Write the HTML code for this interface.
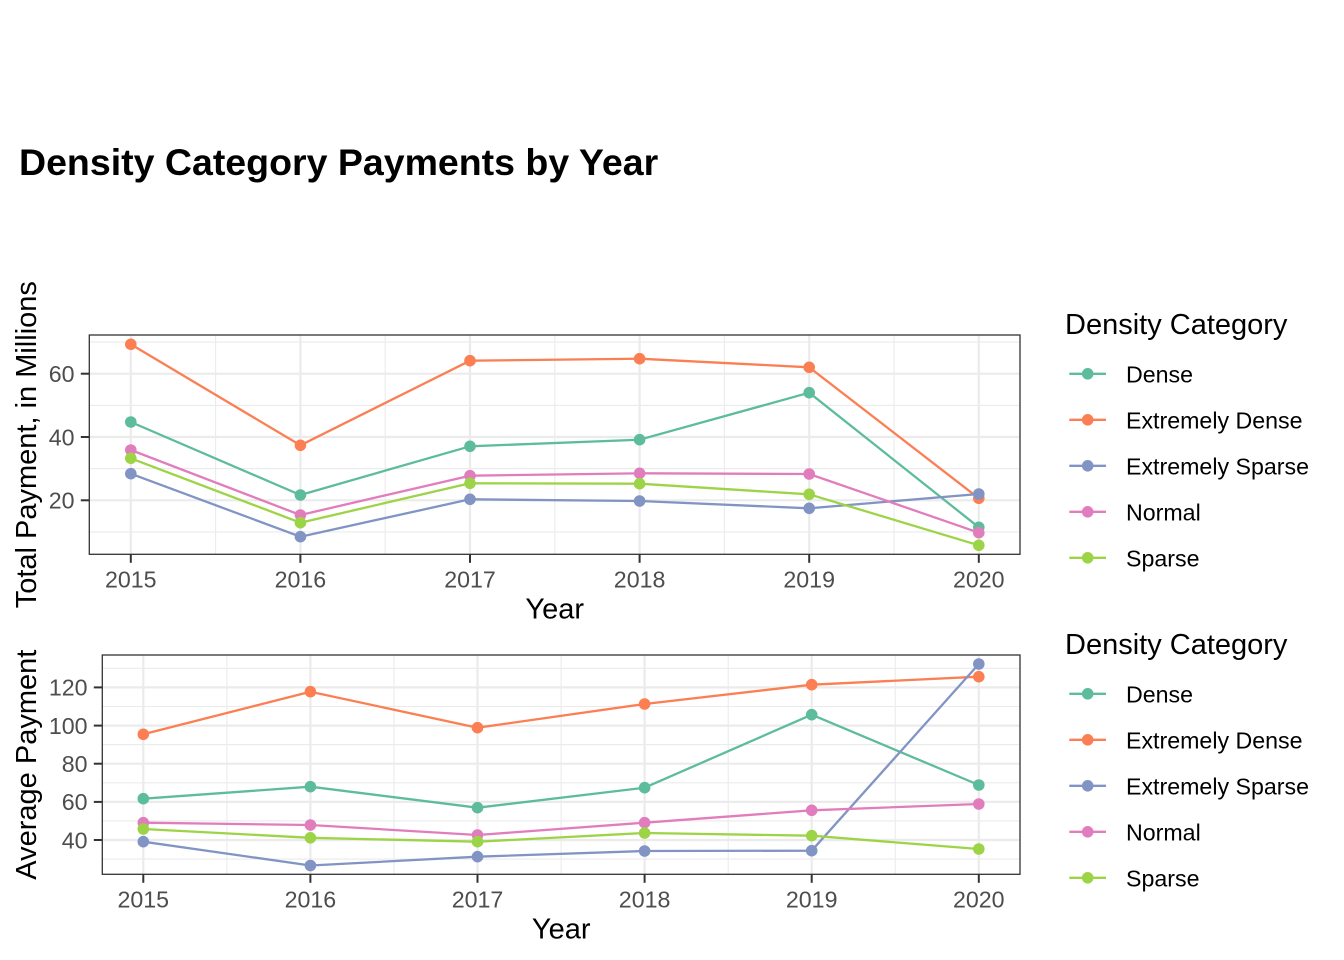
<!DOCTYPE html>
<html>
<head>
<meta charset="utf-8">
<style>
html,body{margin:0;padding:0;background:#fff;}
svg{display:block;}
text{font-family:"Liberation Sans",Arial,Helvetica,sans-serif;}
</style>
</head>
<body>
<svg width="1344" height="960" viewBox="0 0 1344 960" xmlns="http://www.w3.org/2000/svg">
<rect width="1344" height="960" fill="#fff"/>

<!-- Title -->
<text x="19" y="175" font-size="37.5" font-weight="bold" fill="#000">Density Category Payments by Year</text>

<!-- ================= TOP PANEL ================= -->
<g>
  <rect x="89.3" y="335" width="930.7" height="219.3" fill="#fff"/>
  <g stroke="#EBEBEB" stroke-width="1.1" fill="none">
    <line x1="89.3" x2="1020" y1="342.1" y2="342.1"/>
    <line x1="89.3" x2="1020" y1="405.4" y2="405.4"/>
    <line x1="89.3" x2="1020" y1="468.6" y2="468.6"/>
    <line x1="89.3" x2="1020" y1="531.9" y2="531.9"/>
    <line y1="335" y2="554.3" x1="215.6" x2="215.6"/>
    <line y1="335" y2="554.3" x1="385.2" x2="385.2"/>
    <line y1="335" y2="554.3" x1="554.8" x2="554.8"/>
    <line y1="335" y2="554.3" x1="724.4" x2="724.4"/>
    <line y1="335" y2="554.3" x1="894.0" x2="894.0"/>
  </g>
  <g stroke="#EBEBEB" stroke-width="2.2" fill="none">
    <line x1="89.3" x2="1020" y1="373.7" y2="373.7"/>
    <line x1="89.3" x2="1020" y1="437.0" y2="437.0"/>
    <line x1="89.3" x2="1020" y1="500.3" y2="500.3"/>
    <line y1="335" y2="554.3" x1="130.8" x2="130.8"/>
    <line y1="335" y2="554.3" x1="300.4" x2="300.4"/>
    <line y1="335" y2="554.3" x1="470.0" x2="470.0"/>
    <line y1="335" y2="554.3" x1="639.6" x2="639.6"/>
    <line y1="335" y2="554.3" x1="809.2" x2="809.2"/>
    <line y1="335" y2="554.3" x1="978.8" x2="978.8"/>
  </g>
  <g fill="none" stroke-width="2.3" stroke-linejoin="round">
    <polyline stroke="#5DBC9C" points="130.8,422 300.4,495 470.0,446.3 639.6,439.7 809.2,392.7 978.8,527.3"/>
    <polyline stroke="#FB7F52" points="130.8,344.3 300.4,445.3 470.0,360.7 639.6,358.7 809.2,367.3 978.8,498.3"/>
    <polyline stroke="#8194C4" points="130.8,473.7 300.4,536.7 470.0,499.3 639.6,501 809.2,508.3 978.8,494"/>
    <polyline stroke="#E27DBD" points="130.8,450 300.4,515 470.0,475.7 639.6,473.3 809.2,474 978.8,532.7"/>
    <polyline stroke="#9DD447" points="130.8,458.3 300.4,522.7 470.0,483.3 639.6,483.7 809.2,494.3 978.8,545.3"/>
  </g>
  <g>
    <g fill="#5DBC9C">
      <circle cx="130.8" cy="422" r="5.8"/><circle cx="300.4" cy="495" r="5.8"/><circle cx="470.0" cy="446.3" r="5.8"/><circle cx="639.6" cy="439.7" r="5.8"/><circle cx="809.2" cy="392.7" r="5.8"/><circle cx="978.8" cy="527.3" r="5.8"/>
    </g>
    <g fill="#FB7F52">
      <circle cx="130.8" cy="344.3" r="5.8"/><circle cx="300.4" cy="445.3" r="5.8"/><circle cx="470.0" cy="360.7" r="5.8"/><circle cx="639.6" cy="358.7" r="5.8"/><circle cx="809.2" cy="367.3" r="5.8"/><circle cx="978.8" cy="498.3" r="5.8"/>
    </g>
    <g fill="#8194C4">
      <circle cx="130.8" cy="473.7" r="5.8"/><circle cx="300.4" cy="536.7" r="5.8"/><circle cx="470.0" cy="499.3" r="5.8"/><circle cx="639.6" cy="501" r="5.8"/><circle cx="809.2" cy="508.3" r="5.8"/><circle cx="978.8" cy="494" r="5.8"/>
    </g>
    <g fill="#E27DBD">
      <circle cx="130.8" cy="450" r="5.8"/><circle cx="300.4" cy="515" r="5.8"/><circle cx="470.0" cy="475.7" r="5.8"/><circle cx="639.6" cy="473.3" r="5.8"/><circle cx="809.2" cy="474" r="5.8"/><circle cx="978.8" cy="532.7" r="5.8"/>
    </g>
    <g fill="#9DD447">
      <circle cx="130.8" cy="458.3" r="5.8"/><circle cx="300.4" cy="522.7" r="5.8"/><circle cx="470.0" cy="483.3" r="5.8"/><circle cx="639.6" cy="483.7" r="5.8"/><circle cx="809.2" cy="494.3" r="5.8"/><circle cx="978.8" cy="545.3" r="5.8"/>
    </g>
  </g>
  <rect x="89.3" y="335" width="930.7" height="219.3" fill="none" stroke="#333333" stroke-width="1.3"/>
  <g stroke="#333333" stroke-width="2">
    <line x1="80.8" x2="89.3" y1="373.7" y2="373.7"/>
    <line x1="80.8" x2="89.3" y1="437.0" y2="437.0"/>
    <line x1="80.8" x2="89.3" y1="500.3" y2="500.3"/>
    <line y1="554.3" y2="562.8" x1="130.8" x2="130.8"/>
    <line y1="554.3" y2="562.8" x1="300.4" x2="300.4"/>
    <line y1="554.3" y2="562.8" x1="470.0" x2="470.0"/>
    <line y1="554.3" y2="562.8" x1="639.6" x2="639.6"/>
    <line y1="554.3" y2="562.8" x1="809.2" x2="809.2"/>
    <line y1="554.3" y2="562.8" x1="978.8" x2="978.8"/>
  </g>
  <g font-size="23.2" fill="#4D4D4D" text-anchor="end">
    <text x="74.5" y="382">60</text>
    <text x="74.5" y="445.3">40</text>
    <text x="74.5" y="508.6">20</text>
  </g>
  <g font-size="23.2" fill="#4D4D4D" text-anchor="middle">
    <text x="130.8" y="587.3">2015</text>
    <text x="300.4" y="587.3">2016</text>
    <text x="470.0" y="587.3">2017</text>
    <text x="639.6" y="587.3">2018</text>
    <text x="809.2" y="587.3">2019</text>
    <text x="978.8" y="587.3">2020</text>
  </g>
  <text x="554.7" y="618.5" font-size="29" fill="#000" text-anchor="middle">Year</text>
  <text transform="translate(36,444.7) rotate(-90)" font-size="29" fill="#000" text-anchor="middle">Total Payment, in Millions</text>
</g>

<!-- ================= BOTTOM PANEL ================= -->
<g>
  <rect x="102.3" y="655" width="917.7" height="219.3" fill="#fff"/>
  <g stroke="#EBEBEB" stroke-width="1.1" fill="none">
    <line x1="102.3" x2="1020" y1="668.3" y2="668.3"/>
    <line x1="102.3" x2="1020" y1="706.5" y2="706.5"/>
    <line x1="102.3" x2="1020" y1="744.6" y2="744.6"/>
    <line x1="102.3" x2="1020" y1="782.8" y2="782.8"/>
    <line x1="102.3" x2="1020" y1="820.9" y2="820.9"/>
    <line x1="102.3" x2="1020" y1="859.1" y2="859.1"/>
    <line y1="655" y2="874.3" x1="226.9" x2="226.9"/>
    <line y1="655" y2="874.3" x1="394.0" x2="394.0"/>
    <line y1="655" y2="874.3" x1="561.1" x2="561.1"/>
    <line y1="655" y2="874.3" x1="728.2" x2="728.2"/>
    <line y1="655" y2="874.3" x1="895.3" x2="895.3"/>
  </g>
  <g stroke="#EBEBEB" stroke-width="2.2" fill="none">
    <line x1="102.3" x2="1020" y1="687.4" y2="687.4"/>
    <line x1="102.3" x2="1020" y1="725.6" y2="725.6"/>
    <line x1="102.3" x2="1020" y1="763.7" y2="763.7"/>
    <line x1="102.3" x2="1020" y1="801.9" y2="801.9"/>
    <line x1="102.3" x2="1020" y1="840.0" y2="840.0"/>
    <line y1="655" y2="874.3" x1="143.3" x2="143.3"/>
    <line y1="655" y2="874.3" x1="310.4" x2="310.4"/>
    <line y1="655" y2="874.3" x1="477.5" x2="477.5"/>
    <line y1="655" y2="874.3" x1="644.6" x2="644.6"/>
    <line y1="655" y2="874.3" x1="811.7" x2="811.7"/>
    <line y1="655" y2="874.3" x1="978.8" x2="978.8"/>
  </g>
  <g fill="none" stroke-width="2.3" stroke-linejoin="round">
    <polyline stroke="#5DBC9C" points="143.3,798.7 310.4,786.7 477.5,807.7 644.6,787.7 811.7,714.7 978.8,785"/>
    <polyline stroke="#FB7F52" points="143.3,734.3 310.4,691.7 477.5,727.7 644.6,704 811.7,684.7 978.8,676.7"/>
    <polyline stroke="#8194C4" points="143.3,841.7 310.4,865.5 477.5,856.7 644.6,851 811.7,850.7 978.8,664"/>
    <polyline stroke="#E27DBD" points="143.3,822.7 310.4,825 477.5,835 644.6,822.7 811.7,810.3 978.8,804"/>
    <polyline stroke="#9DD447" points="143.3,829 310.4,837.8 477.5,841.7 644.6,833 811.7,835.7 978.8,849"/>
  </g>
  <g>
    <g fill="#5DBC9C">
      <circle cx="143.3" cy="798.7" r="5.8"/><circle cx="310.4" cy="786.7" r="5.8"/><circle cx="477.5" cy="807.7" r="5.8"/><circle cx="644.6" cy="787.7" r="5.8"/><circle cx="811.7" cy="714.7" r="5.8"/><circle cx="978.8" cy="785" r="5.8"/>
    </g>
    <g fill="#FB7F52">
      <circle cx="143.3" cy="734.3" r="5.8"/><circle cx="310.4" cy="691.7" r="5.8"/><circle cx="477.5" cy="727.7" r="5.8"/><circle cx="644.6" cy="704" r="5.8"/><circle cx="811.7" cy="684.7" r="5.8"/><circle cx="978.8" cy="676.7" r="5.8"/>
    </g>
    <g fill="#8194C4">
      <circle cx="143.3" cy="841.7" r="5.8"/><circle cx="310.4" cy="865.5" r="5.8"/><circle cx="477.5" cy="856.7" r="5.8"/><circle cx="644.6" cy="851" r="5.8"/><circle cx="811.7" cy="850.7" r="5.8"/><circle cx="978.8" cy="664" r="5.8"/>
    </g>
    <g fill="#E27DBD">
      <circle cx="143.3" cy="822.7" r="5.8"/><circle cx="310.4" cy="825" r="5.8"/><circle cx="477.5" cy="835" r="5.8"/><circle cx="644.6" cy="822.7" r="5.8"/><circle cx="811.7" cy="810.3" r="5.8"/><circle cx="978.8" cy="804" r="5.8"/>
    </g>
    <g fill="#9DD447">
      <circle cx="143.3" cy="829" r="5.8"/><circle cx="310.4" cy="837.8" r="5.8"/><circle cx="477.5" cy="841.7" r="5.8"/><circle cx="644.6" cy="833" r="5.8"/><circle cx="811.7" cy="835.7" r="5.8"/><circle cx="978.8" cy="849" r="5.8"/>
    </g>
  </g>
  <rect x="102.3" y="655" width="917.7" height="219.3" fill="none" stroke="#333333" stroke-width="1.3"/>
  <g stroke="#333333" stroke-width="2">
    <line x1="93.8" x2="102.3" y1="687.4" y2="687.4"/>
    <line x1="93.8" x2="102.3" y1="725.6" y2="725.6"/>
    <line x1="93.8" x2="102.3" y1="763.7" y2="763.7"/>
    <line x1="93.8" x2="102.3" y1="801.9" y2="801.9"/>
    <line x1="93.8" x2="102.3" y1="840.0" y2="840.0"/>
    <line y1="874.3" y2="882.8" x1="143.3" x2="143.3"/>
    <line y1="874.3" y2="882.8" x1="310.4" x2="310.4"/>
    <line y1="874.3" y2="882.8" x1="477.5" x2="477.5"/>
    <line y1="874.3" y2="882.8" x1="644.6" x2="644.6"/>
    <line y1="874.3" y2="882.8" x1="811.7" x2="811.7"/>
    <line y1="874.3" y2="882.8" x1="978.8" x2="978.8"/>
  </g>
  <g font-size="23.2" fill="#4D4D4D" text-anchor="end">
    <text x="87.5" y="695.7">120</text>
    <text x="87.5" y="733.9">100</text>
    <text x="87.5" y="772">80</text>
    <text x="87.5" y="810.2">60</text>
    <text x="87.5" y="848.3">40</text>
  </g>
  <g font-size="23.2" fill="#4D4D4D" text-anchor="middle">
    <text x="143.3" y="907.3">2015</text>
    <text x="310.4" y="907.3">2016</text>
    <text x="477.5" y="907.3">2017</text>
    <text x="644.6" y="907.3">2018</text>
    <text x="811.7" y="907.3">2019</text>
    <text x="978.8" y="907.3">2020</text>
  </g>
  <text x="561.2" y="938.5" font-size="29" fill="#000" text-anchor="middle">Year</text>
  <text transform="translate(36,764.7) rotate(-90)" font-size="29" fill="#000" text-anchor="middle">Average Payment</text>
</g>

<!-- ================= LEGENDS ================= -->
<g>
  <text x="1065" y="334" font-size="29" fill="#000">Density Category</text>
  <g stroke-width="2.3">
    <line x1="1069.3" x2="1106" y1="373.8" y2="373.8" stroke="#5DBC9C"/>
    <line x1="1069.3" x2="1106" y1="419.8" y2="419.8" stroke="#FB7F52"/>
    <line x1="1069.3" x2="1106" y1="465.8" y2="465.8" stroke="#8194C4"/>
    <line x1="1069.3" x2="1106" y1="511.8" y2="511.8" stroke="#E27DBD"/>
    <line x1="1069.3" x2="1106" y1="557.8" y2="557.8" stroke="#9DD447"/>
  </g>
  <circle cx="1087.7" cy="373.8" r="5.8" fill="#5DBC9C"/>
  <circle cx="1087.7" cy="419.8" r="5.8" fill="#FB7F52"/>
  <circle cx="1087.7" cy="465.8" r="5.8" fill="#8194C4"/>
  <circle cx="1087.7" cy="511.8" r="5.8" fill="#E27DBD"/>
  <circle cx="1087.7" cy="557.8" r="5.8" fill="#9DD447"/>
  <g font-size="23.2" fill="#000">
    <text x="1126" y="382.5">Dense</text>
    <text x="1126" y="428.5">Extremely Dense</text>
    <text x="1126" y="474.5">Extremely Sparse</text>
    <text x="1126" y="520.5">Normal</text>
    <text x="1126" y="566.5">Sparse</text>
  </g>
</g>
<g>
  <text x="1065" y="654" font-size="29" fill="#000">Density Category</text>
  <g stroke-width="2.3">
    <line x1="1069.3" x2="1106" y1="693.8" y2="693.8" stroke="#5DBC9C"/>
    <line x1="1069.3" x2="1106" y1="739.8" y2="739.8" stroke="#FB7F52"/>
    <line x1="1069.3" x2="1106" y1="785.8" y2="785.8" stroke="#8194C4"/>
    <line x1="1069.3" x2="1106" y1="831.8" y2="831.8" stroke="#E27DBD"/>
    <line x1="1069.3" x2="1106" y1="877.8" y2="877.8" stroke="#9DD447"/>
  </g>
  <circle cx="1087.7" cy="693.8" r="5.8" fill="#5DBC9C"/>
  <circle cx="1087.7" cy="739.8" r="5.8" fill="#FB7F52"/>
  <circle cx="1087.7" cy="785.8" r="5.8" fill="#8194C4"/>
  <circle cx="1087.7" cy="831.8" r="5.8" fill="#E27DBD"/>
  <circle cx="1087.7" cy="877.8" r="5.8" fill="#9DD447"/>
  <g font-size="23.2" fill="#000">
    <text x="1126" y="702.5">Dense</text>
    <text x="1126" y="748.5">Extremely Dense</text>
    <text x="1126" y="794.5">Extremely Sparse</text>
    <text x="1126" y="840.5">Normal</text>
    <text x="1126" y="886.5">Sparse</text>
  </g>
</g>
</svg>
</body>
</html>
